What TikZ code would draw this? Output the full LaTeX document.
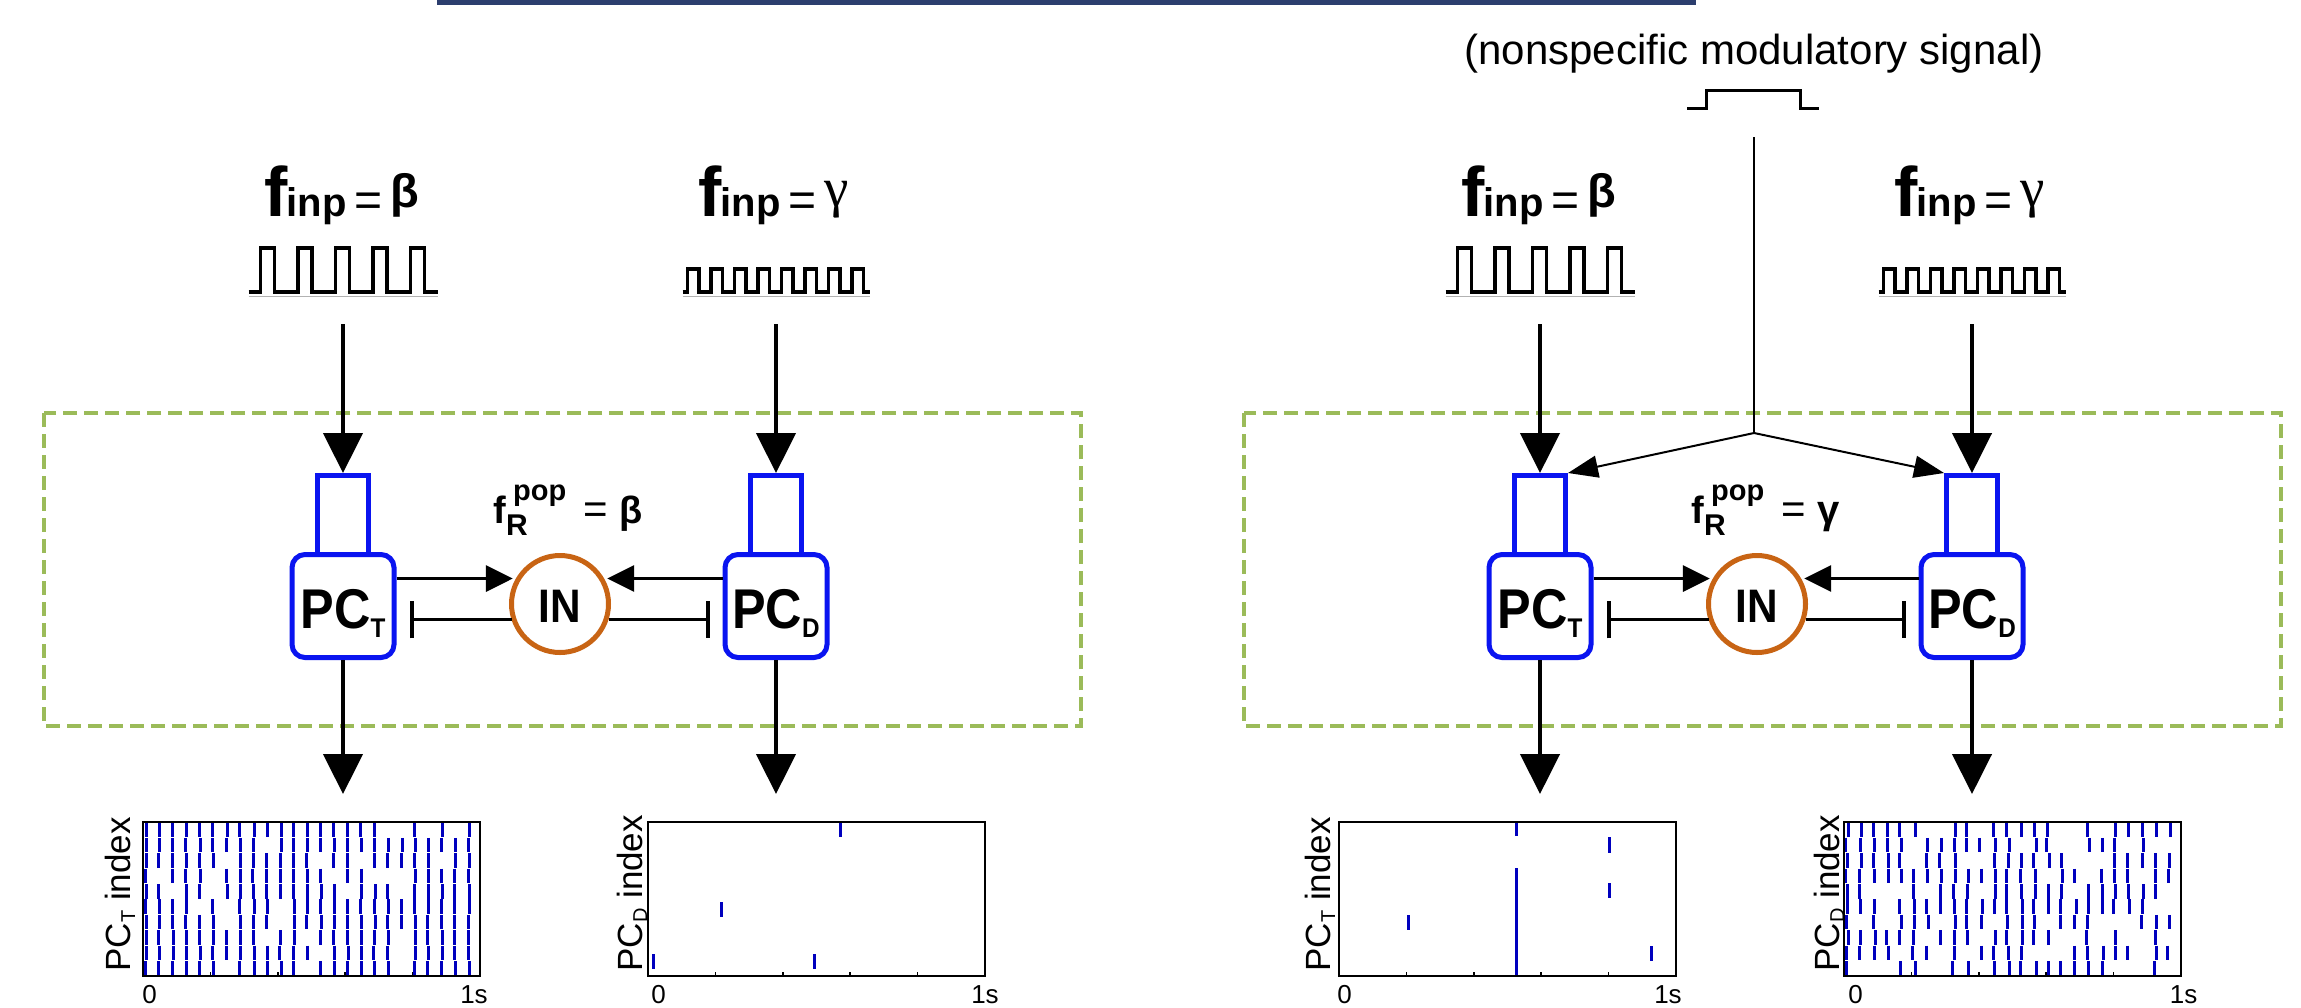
\documentclass[tikz,border=0pt]{standalone}
\usepackage{fontspec}
\usepackage{graphicx}
\setmainfont{Liberation Sans}
\newfontfamily\greekserif{Liberation Serif}
\usetikzlibrary{arrows.meta,calc}

\definecolor{pcblue}{RGB}{10,20,240}
\definecolor{inorange}{RGB}{200,100,20}
\definecolor{boxgreen}{RGB}{155,187,89}
\definecolor{barnavy}{RGB}{44,62,110}
\definecolor{spikeblue}{RGB}{0,0,190}

\newcommand\fsz[1]{\fontsize{#1}{#1}\selectfont}
% input frequency label: f_inp =
\newcommand\finp{{\fsz{70}\bfseries f}\kern-1pt{\fsz{40}\bfseries inp}\kern8pt{\fsz{48}=}\kern8pt}
\newcommand\betaB{\raisebox{9pt}{\fsz{47}\bfseries β}}
\newcommand\gammaT{\raisebox{10pt}{\greekserif\fsz{55}γ}}
% population rhythm label: f_R^pop =
\newcommand\frpop{{\fsz{38}\bfseries f\rlap{\kern7pt\raisebox{23pt}{\fsz{29}pop}}\raisebox{-12pt}{\fsz{30}R}}\kern56pt{\fsz{42}=}\kern11pt}
\newcommand\pclabel[1]{\scalebox{0.9}[1]{\fsz{56}\bfseries PC\raisebox{-9pt}{\fsz{27}#1}}}
\newcommand\rasterlabel[1]{\fsz{35}PC\raisebox{-5pt}{\fsz{20}#1} index}

\tikzset{
  pcbox/.style={draw=pcblue, line width=5pt, rounded corners=13pt, minimum width=102pt,
    minimum height=103pt, inner sep=0pt, text height=50pt, text depth=6pt},
  dendbox/.style={draw=pcblue, line width=5pt, minimum width=51pt, minimum height=79pt, inner sep=0pt},
  incirc/.style={circle, draw=inorange, line width=5pt, minimum size=97pt, inner sep=0pt,
    text height=40pt, text depth=4pt},
  feed/.style={line width=4.5pt, -{Triangle[length=40pt,width=39pt]}},
  excite/.style={line width=3.3pt, shorten >=3pt, -{Triangle[length=27pt,width=26pt]}},
  inhib/.style={line width=3.3pt, -{Bar[width=37pt,line width=4pt]}},
  modline/.style={line width=2pt},
  modarrow/.style={line width=2pt, -{Triangle[length=30pt,width=22pt]}},
  wave/.style={line width=3.5pt, line join=miter},
  underline/.style={draw=gray!60, line width=1.5pt},
  region/.style={draw=boxgreen, line width=3.3pt, dash pattern=on 14pt off 7pt},
  rasterframe/.style={draw=black, line width=2.5pt},
  spike/.style={draw=spikeblue, line width=3pt},
  axislabel/.style={inner sep=0pt, font=\fsz{26}},
}

% square-pulse trains centred on a given x
\newcommand\betawave[1]{%
  \draw[wave] (#1-94.5,292) -- ++(12,0)
    \foreach \k in {1,...,4}{ -- ++(0,-44) -- ++(14,0) -- ++(0,44) -- ++(23.5,0)}
    -- ++(0,-44) -- ++(14,0) -- ++(0,44) -- ++(13,0);
  \draw[underline] (#1-94.5,296.5) -- ++(189,0);}
\newcommand\gammawave[1]{%
  \draw[wave] (#1-93.5,292) -- ++(5,0)
    \foreach \k in {1,...,7}{ -- ++(0,-23) -- ++(11.5,0) -- ++(0,23) -- ++(12,0)}
    -- ++(0,-23) -- ++(11.5,0) -- ++(0,23) -- ++(6,0);
  \draw[underline] (#1-93.5,296.5) -- ++(187,0);}
% raster axes: frame and bottom ticks
\newcommand\rasterframe{%
  \foreach \t in {0.2,0.4,0.6,0.8} \draw[line width=1.5pt] (337*\t,154) -- ++(0,-4);
  \draw[rasterframe] (0,0) rectangle (337,154);}

\begin{document}
\begin{tikzpicture}[x=1pt,y=-1pt]
\useasboundingbox (0,0) rectangle (2301,1007);
\clip (0,0) rectangle (2301,1007);
\fill[white] (0,0) rectangle (2301,1007);
\fill[barnavy] (437,0) rectangle (1696,4.5);

% network regions
\draw[region] (44,413) rectangle (1081,726);
\draw[region] (1244,413) rectangle (2281,726);

% ---------- left network ----------
\node[anchor=base west] (finTL) at (261,216) {\finp\betaB};
\node[anchor=base west] (finDL) at (695,216) {\finp\gammaT};
\betawave{343}
\gammawave{776}
\coordinate (srcTL) at (343,324);
\coordinate (srcDL) at (776,324);

\node[dendbox] (dTL) at (343,515) {};
\node[dendbox] (dDL) at (776,515) {};
\node[pcbox] (pcTL) at (343,606) {\pclabel{T}};
\node[pcbox] (pcDL) at (776,606) {\pclabel{D}};
\node[incirc] (inL) at (560,604) {\scalebox{0.9}[1]{\fsz{47}\bfseries IN}};
\node[anchor=base west] (popL) at (490,523) {\frpop{\fsz{38}\bfseries β}};

\draw[feed] (srcTL) -- (dTL.north);
\draw[feed] (srcDL) -- (dDL.north);
\draw[excite] (pcTL.east |- inL.150) -- (inL.150);
\draw[excite] (pcDL.west |- inL.30) -- (inL.30);
\draw[inhib] (inL.198) -- ($(pcTL.east |- inL.198)+(13,0)$);
\draw[inhib] (inL.-18) -- ($(pcDL.west |- inL.-18)+(-13,0)$);

\coordinate (outTL) at (343,794);
\coordinate (outDL) at (776,794);
\draw[feed] (pcTL.south) -- (outTL);
\draw[feed] (pcDL.south) -- (outDL);

% ---------- right network ----------
\node (modtext) at (1754,64) [anchor=base, font=\fsz{42}] {(nonspecific modulatory signal)};
\draw[line width=3pt] (1687,108) -- (1706,108) -- (1706,90) -- (1800,90) -- (1800,108) -- (1819,108);
\coordinate (modtop) at (1754,137);
\coordinate (modjoin) at (1754,433);

\node[anchor=base west] (finTR) at (1458,216) {\finp\betaB};
\node[anchor=base west] (finDR) at (1891,216) {\finp\gammaT};
\betawave{1540}
\gammawave{1972}
\coordinate (srcTR) at (1540,324);
\coordinate (srcDR) at (1972,324);

\node[dendbox] (dTR) at (1540,515) {};
\node[dendbox] (dDR) at (1972,515) {};
\node[pcbox] (pcTR) at (1540,606) {\pclabel{T}};
\node[pcbox] (pcDR) at (1972,606) {\pclabel{D}};
\node[incirc] (inR) at (1757,604) {\scalebox{0.9}[1]{\fsz{47}\bfseries IN}};
\node[anchor=base west] (popR) at (1688,523) {\frpop{\fsz{40}\bfseries γ}};

\draw[modline] (modtop) -- (modjoin);
\draw[modarrow] (modjoin) -- (dTR.north east);
\draw[modarrow] (modjoin) -- (dDR.north west);

\draw[feed] (srcTR) -- (dTR.north);
\draw[feed] (srcDR) -- (dDR.north);
\draw[excite] (pcTR.east |- inR.150) -- (inR.150);
\draw[excite] (pcDR.west |- inR.30) -- (inR.30);
\draw[inhib] (inR.198) -- ($(pcTR.east |- inR.198)+(13,0)$);
\draw[inhib] (inR.-18) -- ($(pcDR.west |- inR.-18)+(-13,0)$);

\coordinate (outTR) at (1540,794);
\coordinate (outDR) at (1972,794);
\draw[feed] (pcTR.south) -- (outTR);
\draw[feed] (pcDR.south) -- (outDR);

% ---------- spike rasters ----------
% PC_T, beta input: dense, locked to the rhythm
\begin{scope}[shift={(143,822)}]
  \pgfmathsetseed{11}
  \foreach \col in {0,...,24}{\foreach \row in {0,...,9}{
    \pgfmathsetmacro\rv{rnd}
    \pgfmathsetmacro\jx{3+13.45*\col+(rnd-0.5)*1.5}
    \ifdim\rv pt<0.85pt \draw[spike] (\jx,{15.4*\row+0.4}) -- (\jx,{15.4*\row+15}); \fi
  }}
  \rasterframe
\end{scope}
\node[rotate=90, anchor=base west] (labTL) at (130,975) {\rasterlabel{T}};
\node[axislabel, anchor=north] (zeroTL) at (149.5,985) {0};
\node[axislabel, anchor=north] (endTL) at (474,985) {1s};

% PC_D, gamma input: nearly silent
\begin{scope}[shift={(648,822)}]
  \draw[spike] (192,0) -- (192,15);
  \draw[spike] (73,80) -- (73,95);
  \draw[spike] (5,132) -- (5,147);
  \draw[spike] (166,132) -- (166,147);
  \rasterframe
\end{scope}
\node[rotate=90, anchor=base west] (labDL) at (642,975) {\rasterlabel{D}};
\node[axislabel, anchor=north] (zeroDL) at (658.5,985) {0};
\node[axislabel, anchor=north] (endDL) at (985,985) {1s};

% PC_T under modulation: nearly silent
\begin{scope}[shift={(1339,822)}]
  \draw[spike] (177,0) -- (177,14);
  \draw[spike] (177,46) -- (177,153);
  \draw[spike] (270,15) -- (270,31);
  \draw[spike] (270,61) -- (270,76);
  \draw[spike] (69,93) -- (69,108);
  \draw[spike] (312,124) -- (312,139);
  \rasterframe
\end{scope}
\node[rotate=90, anchor=base west] (labTR) at (1330,975) {\rasterlabel{T}};
\node[axislabel, anchor=north] (zeroTR) at (1344.5,985) {0};
\node[axislabel, anchor=north] (endTR) at (1668,985) {1s};

% PC_D under modulation: dense, columns drift slightly between rows
\begin{scope}[shift={(1844,822)}]
  \pgfmathsetseed{5}
  \foreach \col in {0,...,24}{\foreach \row in {0,...,9}{
    \pgfmathsetmacro\rv{rnd}
    \pgfmathsetmacro\jx{3+13.4*\col+(rnd-0.5)*3}
    \ifdim\rv pt<0.72pt \draw[spike] (\jx,{15.4*\row+0.4}) -- (\jx,{15.4*\row+15}); \fi
  }}
  \rasterframe
\end{scope}
\node[rotate=90, anchor=base west] (labDR) at (1839,975) {\rasterlabel{D}};
\node[axislabel, anchor=north] (zeroDR) at (1855.5,985) {0};
\node[axislabel, anchor=north] (endDR) at (2183.5,985) {1s};
\end{tikzpicture}
\end{document}
